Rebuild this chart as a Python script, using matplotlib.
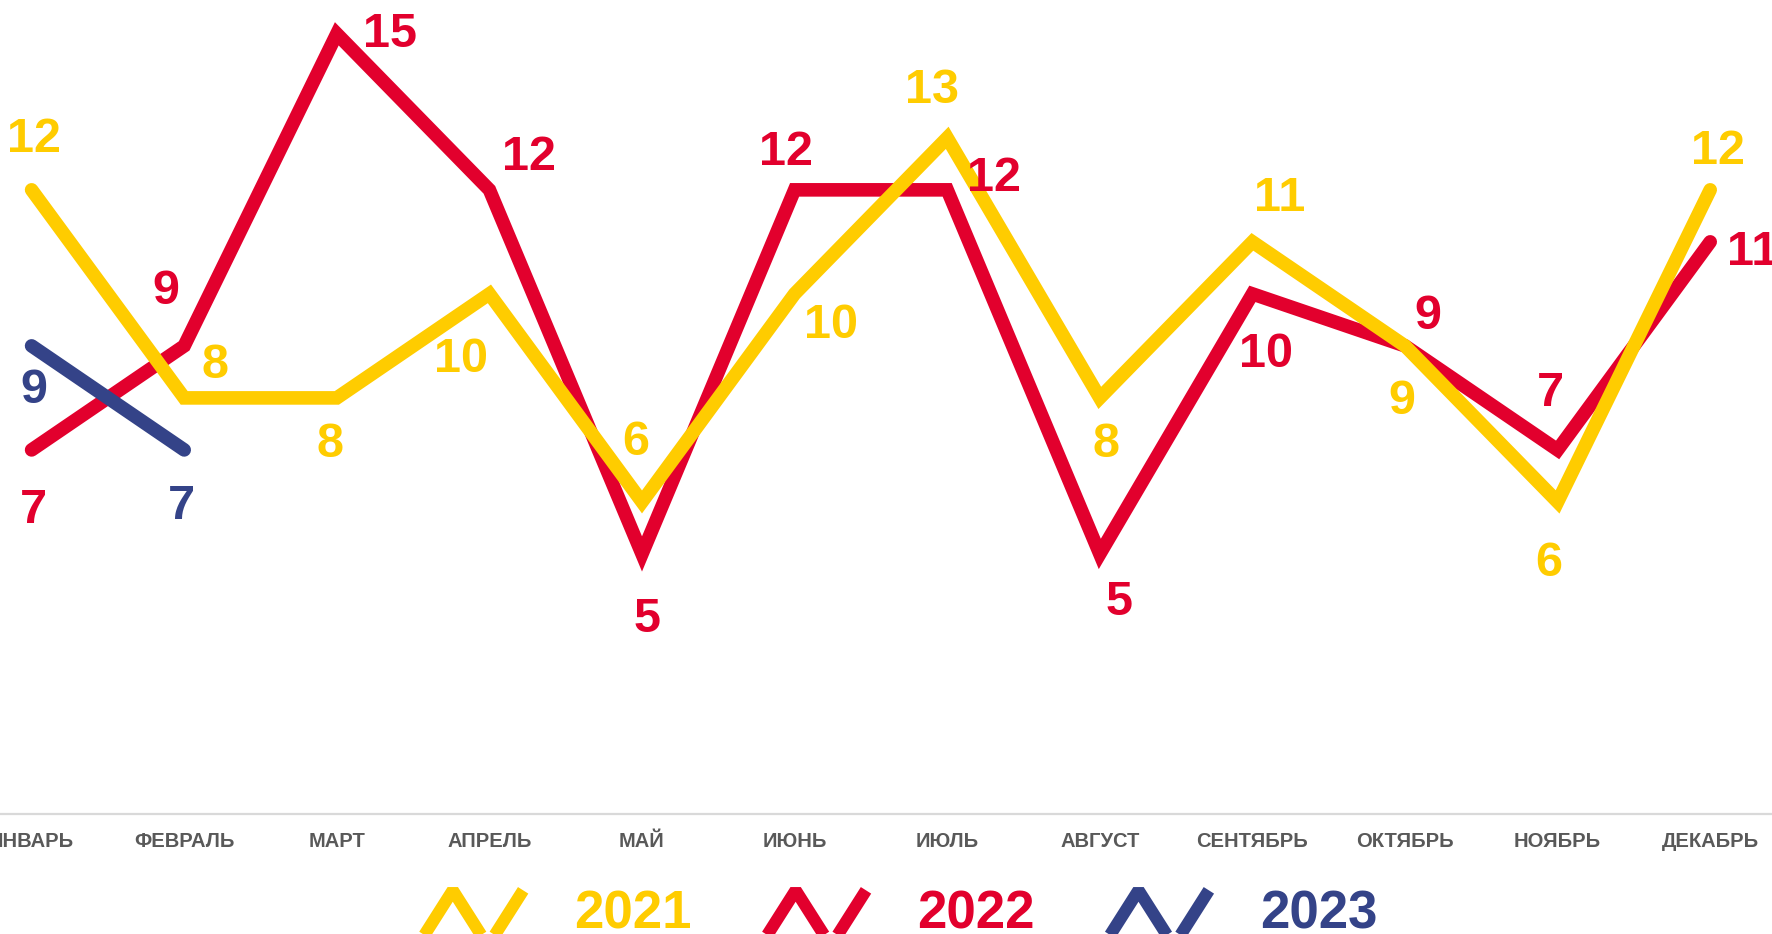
import matplotlib
matplotlib.use("Agg")
import matplotlib.pyplot as plt
from matplotlib.lines import Line2D
from matplotlib.legend_handler import HandlerBase

# ---------------- data ----------------
months = ["ЯНВАРЬ", "ФЕВРАЛЬ", "МАРТ", "АПРЕЛЬ", "МАЙ", "ИЮНЬ", "ИЮЛЬ",
          "АВГУСТ", "СЕНТЯБРЬ", "ОКТЯБРЬ", "НОЯБРЬ", "ДЕКАБРЬ"]
years = ["2021", "2022", "2023"]
values_2021 = [12, 8, 8, 10, 6, 10, 13, 8, 11, 9, 6, 12]
values_2022 = [7, 9, 15, 12, 5, 12, 12, 5, 10, 9, 7, 11]
values_2023 = [9, 7]

# ---------------- style / layout ----------------
colors = {"2021": "#FFCC00", "2022": "#E2002D", "2023": "#344388"}
LW = 9.8
# label offsets in pixels (dx, dy) for each point
off_2021 = [(2, 54), (31, 36), (-7, -43), (-28, -62), (-6, 63), (36, -28),
            (-15, 51), (6, -43), (27, 47), (-3, -52), (-9, -58), (8, 42)]
off_2022 = [(2, -57), (-18, 58), (53, 3), (40, 36), (5, -62), (-9, 41),
            (47, 15), (19, -45), (14, -57), (23, 33), (-7, 60), (42, -7)]
off_2023 = [(2, -41), (-3, -53)]

narrow = ["Liberation Sans Narrow", "Liberation Sans", "DejaVu Sans"]
arial = ["Liberation Sans", "DejaVu Sans"]

W, H = 1772, 934
fig = plt.figure(figsize=(W / 100, H / 100), dpi=100)
axis_y = 814
ymax = 15.65
ax = fig.add_axes([0, (H - axis_y) / H, 1, axis_y / H])

x_first = 31.6
spacing = 152.6
ax.set_xlim(-x_first / spacing, (W - x_first) / spacing)
ax.set_ylim(0, ymax)

series = [("2022", values_2022, off_2022, 2),
          ("2021", values_2021, off_2021, 3),
          ("2023", values_2023, off_2023, 4)]

handles = {}
for name, vals, offs, z in series:
    xs = list(range(len(vals)))
    ln, = ax.plot(xs, vals, color=colors[name], lw=LW, solid_capstyle="round",
                  solid_joinstyle="miter", zorder=z, clip_on=False)
    handles[name] = ln
    for x, v, (dx, dy) in zip(xs, vals, offs):
        ax.annotate(str(v), (x, v), xytext=(dx, dy - 4), textcoords="offset pixels",
                    ha="center", va="center", fontsize=35, fontweight="bold",
                    family=arial, color=colors[name], zorder=6)

for s in ["top", "right", "left"]:
    ax.spines[s].set_visible(False)
ax.spines["bottom"].set_color("#D9D9D9")
ax.spines["bottom"].set_linewidth(1.6)
ax.set_yticks([])
ax.set_xticks(range(len(months)))
ax.set_xticklabels(months, family=narrow, fontweight="bold", fontsize=14.5,
                   color="#595959")
ax.tick_params(axis="x", length=0, pad=13)


class ZigZag(HandlerBase):
    def create_artists(self, legend, orig_handle, xdescent, ydescent, width,
                       height, fontsize, trans):
        x0 = -xdescent
        y_bot = -0.33 * fontsize
        y_top = 0.72 * fontsize
        xs = [x0, x0 + width / 3, x0 + 2 * width / 3, x0 + width]
        ys = [y_bot, y_top, y_bot, y_top]
        ln = Line2D(xs, ys, color=orig_handle.get_color(),
                    linewidth=orig_handle.get_linewidth() * 0.9,
                    solid_joinstyle="bevel", solid_capstyle="butt",
                    transform=trans)
        return [ln]


leg = fig.legend([handles[y] for y in years], years, loc="center",
                 bbox_to_anchor=(0.5065, 0.0225), ncol=3, frameon=False,
                 prop={"family": narrow, "weight": "bold", "size": 38},
                 handlelength=2.0, handleheight=1.0, handletextpad=0.97,
                 columnspacing=1.3, borderpad=0, borderaxespad=0,
                 labelcolor="linecolor",
                 handler_map={Line2D: ZigZag()})

fig.savefig("out.png", dpi=100)
